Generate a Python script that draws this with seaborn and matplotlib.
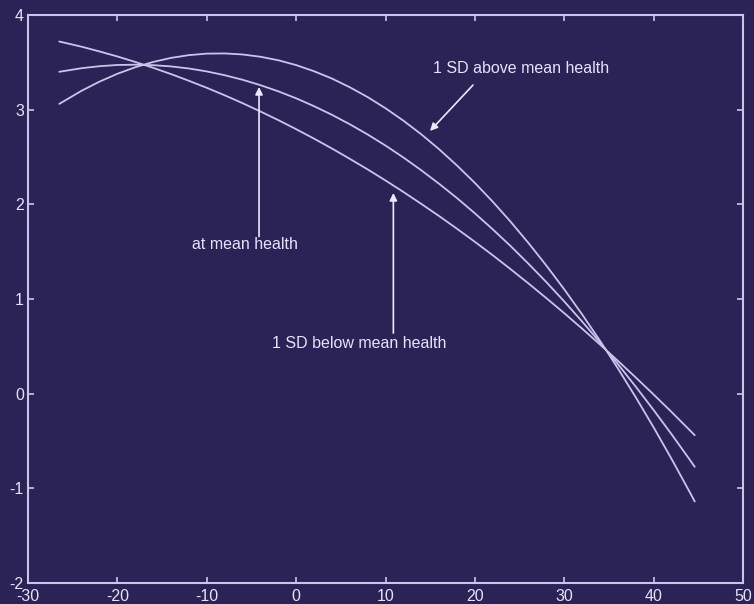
import matplotlib
matplotlib.use("Agg")
import matplotlib.pyplot as plt
import pandas as pd
import seaborn as sns

# Predicted outcome against age-centred x for three levels of health
x_vals = [-26.5, -24, -22, -20, -18, -16, -14, -12, -10, -8, -6, -4, -2, 0,
          2, 4, 6, 8, 10, 12, 14, 16, 18, 20, 22, 24, 26, 28, 30, 32, 34, 36,
          38, 40, 42, 44, 44.6]
above_mean = [3.061, 3.200, 3.296, 3.379, 3.448, 3.504, 3.547, 3.576, 3.592,
              3.594, 3.583, 3.559, 3.522, 3.471, 3.406, 3.329, 3.237, 3.133,
              3.015, 2.884, 2.740, 2.582, 2.410, 2.226, 2.028, 1.816, 1.591,
              1.353, 1.102, 0.837, 0.559, 0.267, -0.038, -0.356, -0.688,
              -1.033, -1.139]
at_mean = [3.400, 3.438, 3.459, 3.472, 3.475, 3.470, 3.457, 3.435, 3.404,
           3.364, 3.316, 3.259, 3.194, 3.120, 3.037, 2.946, 2.846, 2.738,
           2.621, 2.495, 2.360, 2.217, 2.066, 1.905, 1.736, 1.559, 1.372,
           1.178, 0.974, 0.762, 0.541, 0.312, 0.074, -0.173, -0.428,
           -0.692, -0.773]
below_mean = [3.720, 3.665, 3.615, 3.562, 3.504, 3.442, 3.376, 3.305, 3.231,
              3.152, 3.069, 2.981, 2.890, 2.794, 2.694, 2.590, 2.481, 2.369,
              2.252, 2.131, 2.005, 1.876, 1.742, 1.604, 1.462, 1.315, 1.164,
              1.009, 0.850, 0.687, 0.519, 0.347, 0.171, -0.009, -0.193,
              -0.382, -0.439]
series_names = ["1 SD above mean health", "at mean health", "1 SD below mean health"]

x_ticks = [-30, -20, -10, 0, 10, 20, 30, 40, 50]
y_ticks = [-2, -1, 0, 1, 2, 3, 4]

BG = "#2b2356"
LINE = "#cbc4ea"
TEXT = "#e6e2f8"

df = pd.DataFrame({
    "x": x_vals * 3,
    "y": above_mean + at_mean + below_mean,
    "level": sum([[n] * len(x_vals) for n in series_names], []),
})

sns.set_theme(style="ticks")
plt.rcParams["font.family"] = ["Liberation Sans", "DejaVu Sans"]
plt.rcParams["axes.unicode_minus"] = False

fig = plt.figure(figsize=(7.54, 6.04), dpi=100, facecolor=BG)
ax = fig.add_axes([28 / 754, 21 / 604, 715 / 754, 568 / 604])
ax.set_facecolor(BG)

sns.lineplot(data=df, x="x", y="y", hue="level", estimator=None, sort=False,
             palette={n: LINE for n in series_names}, linewidth=1.3,
             legend=False, ax=ax)

ax.set_xlim(-30, 50)
ax.set_ylim(-2, 4)
ax.set_xticks(x_ticks)
ax.set_yticks(y_ticks)
ax.set_xlabel("")
ax.set_ylabel("")

for side in ["left", "right", "top", "bottom"]:
    ax.spines[side].set_visible(True)
    ax.spines[side].set_color(LINE)
    ax.spines[side].set_linewidth(1.5)

ax.tick_params(axis="both", which="both", direction="in", length=4, width=1.2,
               color=LINE, labelcolor=TEXT, labelsize=11.5, top=True, right=True)
ax.tick_params(axis="x", pad=4)
ax.tick_params(axis="y", pad=3)

arrow_kw = dict(arrowstyle="-|>", color="#ece9fb", lw=1.2, mutation_scale=11,
                shrinkA=0, shrinkB=0)
label_kw = dict(color=TEXT, fontsize=11.5, ha="center", va="center")

ax.annotate("", xy=(14.98, 2.775), xytext=(19.79, 3.26), arrowprops=arrow_kw)
ax.text(25.16, 3.43, series_names[0], **label_kw)

ax.annotate("", xy=(-4.15, 3.24), xytext=(-4.15, 1.66), arrowprops=arrow_kw)
ax.text(-5.72, 1.58, series_names[1], **label_kw)

ax.annotate("", xy=(10.88, 2.12), xytext=(10.88, 0.64), arrowprops=arrow_kw)
ax.text(7.04, 0.525, series_names[2], **label_kw)

fig.savefig("out.png", dpi=100, facecolor=BG)
